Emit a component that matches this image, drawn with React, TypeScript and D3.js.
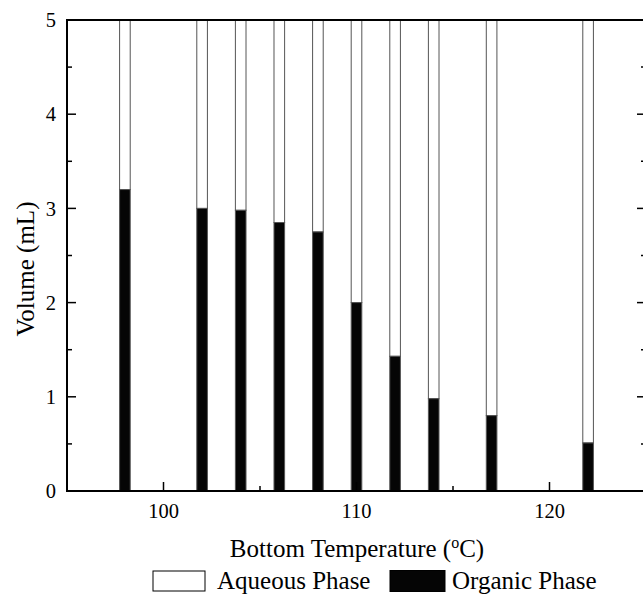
import React from "react";
import * as d3 from "d3";

const temperatures = [98, 102, 104, 106, 108, 110, 112, 114, 117, 122];
const organicPhase = [3.2, 3.0, 2.98, 2.85, 2.75, 2.0, 1.43, 0.98, 0.8, 0.51];
const totalVolume = [5, 5, 5, 5, 5, 5, 5, 5, 5, 5];
const xMajorTicks = [100, 110, 120];
const xMinorTicks = [95, 105, 115, 125];
const yMajorTicks = [0, 1, 2, 3, 4, 5];
const yMinorTicks = [0.5, 1.5, 2.5, 3.5, 4.5];

const W = 643;
const H = 594;
const left = 67;
const right = 646;
const top = 20;
const bottom = 491;
const FONT = "'Liberation Serif', 'Times New Roman', serif";

export default function App() {
  const x = d3.scaleLinear().domain([95, 125]).range([left, right]);
  const y = d3.scaleLinear().domain([0, 5]).range([bottom, top]);
  const barW = x(95.55) - x(95);

  return (
    <svg
      width={W}
      height={H}
      style={{ position: "absolute", left: 0, top: 0, background: "#fff" }}
      fontFamily={FONT}
    >
      {/* bars */}
      {temperatures.map((t, i) => (
        <g key={t}>
          <rect
            x={x(t) - barW / 2}
            y={y(totalVolume[i])}
            width={barW}
            height={y(organicPhase[i]) - y(totalVolume[i])}
            fill="#fff"
            stroke="#555"
            strokeWidth={1}
          />
          <rect
            x={x(t) - barW / 2}
            y={y(organicPhase[i])}
            width={barW}
            height={y(0) - y(organicPhase[i])}
            fill="#050505"
            stroke="#555"
            strokeWidth={1}
          />
        </g>
      ))}

      {/* frame */}
      <rect
        x={left}
        y={top}
        width={right - left}
        height={bottom - top}
        fill="none"
        stroke="#000"
        strokeWidth={2}
      />

      {/* y ticks */}
      {yMajorTicks.map((v) => (
        <g key={"ym" + v}>
          <line x1={left} x2={left + 9} y1={y(v)} y2={y(v)} stroke="#000" strokeWidth={1.5} />
          <line x1={right} x2={right - 9} y1={y(v)} y2={y(v)} stroke="#000" strokeWidth={1.5} />
          <text x={left - 11} y={y(v)} dy="0.35em" textAnchor="end" fontSize={20.5}>
            {v}
          </text>
        </g>
      ))}
      {yMinorTicks.map((v) => (
        <g key={"yn" + v}>
          <line x1={left} x2={left + 5} y1={y(v)} y2={y(v)} stroke="#000" strokeWidth={1.5} />
          <line x1={right} x2={right - 5} y1={y(v)} y2={y(v)} stroke="#000" strokeWidth={1.5} />
        </g>
      ))}

      {/* x ticks */}
      {xMajorTicks.map((v) => (
        <g key={"xm" + v}>
          <line x1={x(v)} x2={x(v)} y1={bottom} y2={bottom - 9} stroke="#000" strokeWidth={1.5} />
          <text x={x(v)} y={bottom + 27} textAnchor="middle" fontSize={20.5}>
            {v}
          </text>
        </g>
      ))}
      {xMinorTicks.map((v) => (
        <line key={"xn" + v} x1={x(v)} x2={x(v)} y1={bottom} y2={bottom - 5} stroke="#000" strokeWidth={1.5} />
      ))}

      {/* axis titles */}
      <text
        transform={`translate(${34},${269}) rotate(-90)`}
        textAnchor="middle"
        fontSize={25}
      >
        Volume (mL)
      </text>
      <text x={357} y={557} textAnchor="middle" fontSize={25}>
        Bottom Temperature (
        <tspan dy={-9} fontSize={16}>o</tspan>
        <tspan dy={9}>C)</tspan>
      </text>

      {/* legend */}
      <rect x={153} y={571} width={52} height={20} fill="#fff" stroke="#000" strokeWidth={1} />
      <text x={217} y={589} fontSize={25}>
        Aqueous Phase
      </text>
      <rect x={390} y={570.5} width={55} height={21} fill="#050505" stroke="#000" strokeWidth={1} />
      <text x={452} y={589} fontSize={25}>
        Organic Phase
      </text>
    </svg>
  );
}
